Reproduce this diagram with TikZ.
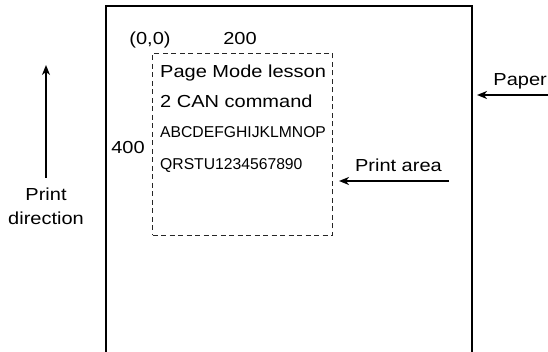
\documentclass[tikz,border=0pt]{standalone}
\usepackage{fontspec}
\setmainfont{Liberation Sans}
\newfontfamily\widefont[FakeStretch=1.15]{Liberation Sans}
\usetikzlibrary{arrows.meta, positioning}

\begin{document}
\begin{tikzpicture}[
    x=1pt, y=-1pt,
    >={Stealth[length=10pt, width=8pt, inset=3pt]},
    every node/.style={inner sep=0pt},
    paperline/.style={line width=1.5pt, black},
    areabox/.style={
        draw=black!85, line width=1pt, dash pattern=on 5pt off 3.5pt,
        minimum width=180pt, minimum height=182pt, anchor=north west
    },
    arrstyle/.style={->, line width=1.6pt, black},
    txt/.style={font=\widefont\fontsize{17.4}{23}\selectfont, text=black, anchor=base west},
    captxt/.style={font=\fontsize{15.7}{18}\selectfont, text=black, anchor=base west},
]
\useasboundingbox (0,0) rectangle (548,352);

% === Paper sheet (open at the bottom) ===
\coordinate (paperbl) at (106,352);
\coordinate (papertl) at (106,6);
\coordinate (papertr) at (472,6);
\coordinate (paperbr) at (472,352);
\draw[paperline] (paperbl) -- (papertl) -- (papertr) -- (paperbr);

% === Print area ===
\node[areabox] (area) at (152,53) {};
\node[txt, anchor=base] (origin) at (150,45) {(0,0)};
\node[txt, anchor=base] (width) at (240,45) {200};
\node[txt, anchor=base] (height) at (128,154) {400};

\node[txt] (line1) at (160,78) {Page Mode lesson};
\node[txt] (line2) at (160,108) {2 CAN command};
\node[captxt] (line3) at (160,138) {ABCDEFGHIJKLMNOP};
\node[captxt] (line4) at (160,170) {QRSTU1234567890};

% === Print direction ===
\coordinate (dirtail) at (46,178);
\coordinate (dirtip) at (46,65);
\draw[arrstyle] (dirtail) -- (dirtip);
\node[txt, anchor=base] (dirlabel) at (46,201) {Print};
\node[txt, anchor=base] (dirlabel2) at (46,225) {direction};

% === Paper pointer ===
\coordinate (papertail) at (548,95);
\coordinate (paperedge) at (477,95);
\draw[arrstyle] (papertail) -- (paperedge);
\node[txt, anchor=base east] (paperlabel) at (547,86) {Paper};

% === Print area pointer ===
\coordinate (areatail) at (449,181);
\draw[arrstyle] (areatail) -- ([xshift=6pt]area.east |- areatail);
\node[txt, anchor=base east] (arealabel) at (442,172) {Print area};

\end{tikzpicture}
\end{document}
